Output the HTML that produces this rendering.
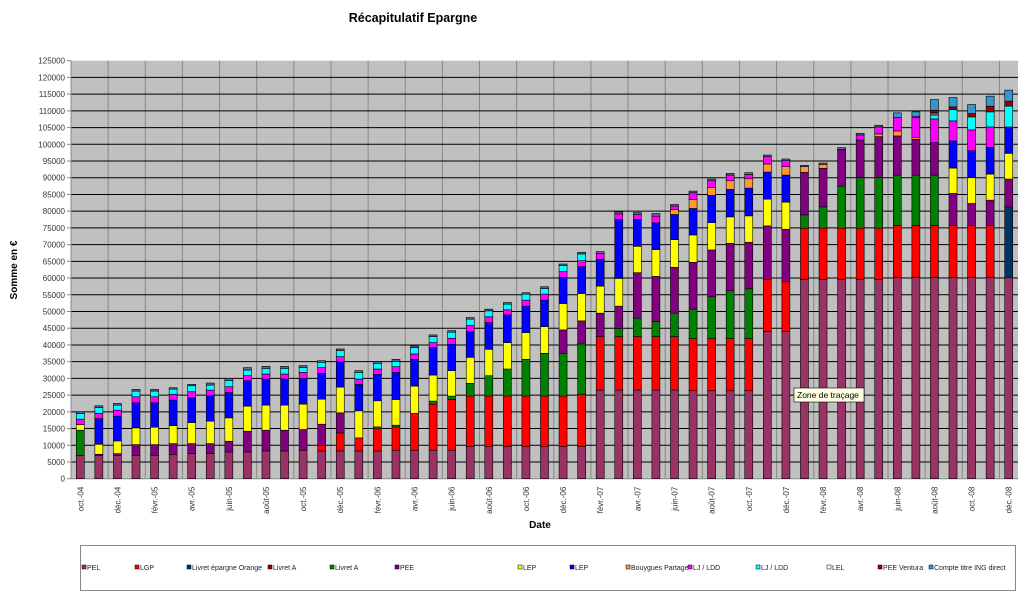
<!DOCTYPE html>
<html><head><meta charset="utf-8"><style>
body{margin:0;background:#fff;width:1024px;height:593px;overflow:hidden;font-family:"Liberation Sans",sans-serif}
</style></head><body>
<svg id="s" width="1024" height="593" xmlns="http://www.w3.org/2000/svg" font-family="Liberation Sans, sans-serif"></svg>
<script>
const C={P:'#993366',R:'#FF0000',N:'#003366',G:'#008000',V:'#800080',Y:'#FFFF00',B:'#0000FF',O:'#FF9933',M:'#FF00FF',C:'#00FFFF',K:'#666699',D:'#990000',T:'#3399CC'};
const data=[
[['P',7],['G',14.5],['Y',16.2],['M',17.8],['C',19.5],['K',20]],
[['P',7],['V',7.3],['Y',10.3],['B',18],['M',19.5],['C',21.3],['K',21.8]],
[['P',7],['V',7.5],['Y',11.3],['B',18.7],['M',20.5],['C',22],['K',22.5]],
[['P',7],['V',10.2],['Y',15.2],['B',22.7],['M',24.5],['C',26.2],['K',26.7]],
[['P',7],['V',10.2],['Y',15.4],['B',22.7],['M',24.5],['C',26.2],['K',26.7]],
[['P',7.3],['V',10.5],['Y',15.9],['B',23.5],['M',25.2],['C',26.8],['K',27.2]],
[['P',7.5],['V',10.5],['Y',16.8],['B',24.2],['M',26],['C',27.8],['K',28.2]],
[['P',7.5],['V',10.5],['Y',17.2],['B',24.8],['M',26.5],['C',28],['K',28.6]],
[['P',8],['V',11.2],['Y',18.2],['B',25.8],['M',27.5],['C',29.3],['K',30]],
[['P',8],['V',14.2],['Y',21.7],['B',29.3],['M',30.8],['C',32.5],['K',33.2]],
[['P',8.3],['V',14.5],['Y',22],['B',29.8],['M',31.3],['C',33],['K',33.6]],
[['P',8.3],['V',14.5],['Y',22],['B',29.8],['M',31.3],['C',33],['K',33.6]],
[['P',8.5],['V',14.7],['Y',22.3],['B',30],['M',31.8],['C',33.3],['K',33.8]],
[['P',8.3],['R',10],['V',16.3],['Y',23.8],['B',31.5],['M',33.2],['C',34.8],['K',35.3]],
[['P',8.3],['R',13.7],['V',19.7],['Y',27.4],['B',35],['M',36.5],['C',38.3],['K',38.8]],
[['P',8.3],['R',12.2],['Y',20.3],['B',28.2],['M',29.8],['C',31.8],['K',32.3]],
[['P',8.3],['R',15],['G',15.5],['Y',23.3],['B',31.2],['M',32.8],['C',34.5],['K',35]],
[['P',8.5],['R',15.5],['G',16],['Y',23.7],['B',31.8],['M',33.5],['C',35],['K',35.7]],
[['P',8.5],['R',19.5],['Y',27.7],['B',35.7],['M',37.3],['C',39.2],['K',39.7]],
[['P',8.5],['R',22.3],['G',23.2],['Y',31],['B',39.2],['M',40.7],['C',42.5],['K',43]],
[['P',8.5],['R',23.7],['G',24.7],['Y',32.3],['B',40.2],['M',42],['C',43.8],['K',44.3]],
[['P',9.6],['R',24.7],['G',28.5],['Y',36.3],['B',44],['M',45.8],['C',47.7],['K',48.2]],
[['P',9.6],['R',24.7],['G',30.8],['Y',38.7],['B',46.7],['M',48.4],['C',50.2],['K',50.7]],
[['P',9.6],['R',24.7],['G',32.8],['Y',40.7],['B',49],['M',50.5],['C',52.2],['K',52.7]],
[['P',9.6],['R',24.7],['G',35.7],['Y',43.7],['B',51.6],['M',53.4],['C',55.2],['K',55.6]],
[['P',9.6],['R',24.7],['G',37.5],['Y',45.5],['B',53.4],['M',55.2],['C',56.9],['K',57.4]],
[['P',9.6],['R',24.7],['G',37.5],['V',44.5],['Y',52.4],['B',60.2],['M',61.9],['C',63.7],['K',64.2]],
[['P',9.6],['R',25.2],['G',40.3],['V',47.2],['Y',55.4],['B',63.4],['M',65.2],['C',67.2],['K',67.7]],
[['P',26.5],['R',42.5],['V',49.5],['Y',57.6],['B',65.6],['M',67.4],['K',67.9]],
[['P',26.5],['R',42.5],['G',44.9],['V',51.6],['Y',59.9],['B',77.5],['M',79.2],['K',79.8]],
[['P',26.5],['R',42.5],['G',48],['V',61.6],['Y',69.5],['B',77.5],['M',79],['K',79.6]],
[['P',26.5],['R',42.5],['G',47],['V',60.5],['Y',68.5],['B',76.5],['M',78.5],['K',79.3]],
[['P',26.5],['R',42.5],['G',49.5],['V',63.2],['Y',71.5],['B',79],['O',80.5],['M',81.5],['K',82]],
[['P',26.3],['R',41.9],['G',50.7],['V',64.7],['Y',72.9],['B',80.8],['O',83.5],['M',85.5],['K',86]],
[['P',26.3],['R',41.9],['G',54.4],['V',68.4],['Y',76.6],['B',84.7],['O',87.1],['M',89.1],['K',89.6]],
[['P',26.3],['R',41.9],['G',56.2],['V',70.4],['Y',78.3],['B',86.5],['O',89.1],['M',90.8],['K',91.3]],
[['P',26.3],['R',41.9],['G',56.8],['V',70.7],['Y',78.6],['B',86.9],['O',89.7],['M',91],['K',91.5]],
[['P',44],['R',59.6],['V',75.6],['Y',83.6],['B',91.7],['O',94.1],['M',96.3],['K',96.8]],
[['P',44],['R',58.9],['V',74.6],['Y',82.7],['B',90.8],['O',93.3],['M',95.1],['K',95.6]],
[['P',59.6],['R',74.9],['G',78.9],['V',91.6],['O',93.3],['K',93.7]],
[['P',59.6],['R',74.9],['G',81.3],['V',92.8],['O',94],['K',94.4]],
[['P',59.6],['R',74.9],['G',87.5],['V',98.5],['K',99]],
[['P',59.6],['R',74.9],['G',90.1],['V',101.3],['M',102.8],['K',103.3]],
[['P',59.6],['R',74.9],['G',90.1],['V',102.3],['O',103.1],['M',105.2],['K',105.7]],
[['P',60.2],['R',75.7],['G',90.8],['V',102.5],['O',104],['M',108],['T',109.4]],
[['P',60.2],['R',75.7],['G',90.8],['V',101.5],['O',102.1],['M',108],['K',108.4],['T',109.7]],
[['P',60.2],['R',75.7],['G',90.8],['V',100.5],['M',107.6],['C',108.7],['K',109.4],['D',110.2],['T',113.4]],
[['P',60.2],['R',75.7],['V',85.3],['Y',92.9],['B',101],['M',107],['C',110.4],['D',111.2],['T',114]],
[['P',60.2],['R',75.7],['V',82.3],['Y',90],['B',98.1],['M',104.3],['C',108.2],['D',109.2],['T',111.9]],
[['P',60.2],['R',75.7],['V',83.3],['Y',91.1],['B',99.1],['M',105.2],['C',109.7],['D',111.4],['T',114.4]],
[['P',60.2],['N',81.3],['V',89.6],['Y',97.3],['B',105.2],['C',111.4],['D',112.9],['T',116.2]]
];
const L=71,R=1018,T0=60.7,B0=478.7,k=(B0-T0)/125,cw=(R-L)/51;
const Y=v=>B0-v*k;
let h='';
h+=`<text x="413" y="22" font-size="12.5" font-weight="bold" text-anchor="middle">Récapitulatif Epargne</text>`;
h+=`<rect x="${L}" y="${T0}" width="${R-L}" height="${B0-T0}" fill="#C0C0C0"/>`;
for(let i=1;i<26;i++){const x=L+i*cw*2;h+=`<line x1="${x}" y1="${T0}" x2="${x}" y2="${B0}" stroke="#888" stroke-width="1"/>`;}
for(let v=0;v<=125;v+=5){const y=Y(v);
 if(v>0&&v<125)h+=`<line x1="${L}" y1="${y}" x2="${R}" y2="${y}" stroke="#000" stroke-width="1"/>`;
 h+=`<line x1="${L-4}" y1="${y}" x2="${L}" y2="${y}" stroke="#888"/>`;
 h+=`<text x="${L-6}" y="${y+3}" font-size="8" fill="#333" text-anchor="end">${v*1000}</text>`;}
h+=`<line x1="${L}" y1="${T0}" x2="${L}" y2="${B0}" stroke="#888"/><line x1="${L}" y1="${B0}" x2="${R}" y2="${B0}" stroke="#888"/>`;
data.forEach((bar,i)=>{const cx=L+(i+0.5)*cw;let prev=0;
 bar.forEach(([c,v])=>{const y1=Y(v),y0=Y(prev);h+=`<rect x="${cx-4}" y="${y1}" width="8" height="${Math.max(y0-y1,0.5)}" fill="${C[c]}" stroke="#000" stroke-width="0.6"/>`;prev=v;});});
const mo=['oct.-','déc.-','févr.-','avr.-','juin-','août-'];
for(let i=0;i<51;i+=2){const cx=L+(i+0.5)*cw;const m=(i/2)%6;const yr=4+Math.floor((i+9)/12);
 h+=`<text transform="translate(${cx+3},${B0+8}) rotate(-90)" font-size="8" fill="#333" text-anchor="end">${mo[m]}0${yr}</text>`;}
h+=`<text transform="translate(17,270) rotate(-90)" font-size="10" font-weight="bold" text-anchor="middle">Somme en €</text>`;
h+=`<text x="540" y="528" font-size="10" font-weight="bold" text-anchor="middle">Date</text>`;
h+=`<rect x="80.5" y="545.5" width="935" height="45" fill="#fff" stroke="#888"/>`;
const lg=[[82,'P','PEL'],[135,'R','LGP'],[187,'N','Livret épargne Orange'],[268,'D','Livret A'],[330,'G','Livret A'],[395,'V','PEE'],[518,'Y','LEP'],[570,'B','LEP'],[626,'O','Bouygues Partage'],[688,'M','LJ / LDD'],[756,'C','LJ / LDD'],[827,'W','LEL'],[878,'D','PEE Ventura'],[929,'T','Compte titre ING direct']];
lg.forEach(([x,c,t])=>{h+=`<rect x="${x}" y="565" width="4" height="4" fill="${C[c]||'#fff'}" stroke="#000" stroke-width="0.5"/><text x="${x+5}" y="570" font-size="7" fill="#222">${t}</text>`;});
h+=`<rect x="794" y="388" width="70" height="14" fill="#FFFFE1" stroke="#000" stroke-width="0.6"/><text x="797" y="398" font-size="8.5">Zone de traçage</text>`;
document.getElementById('s').innerHTML=h;
</script>
</body></html>
